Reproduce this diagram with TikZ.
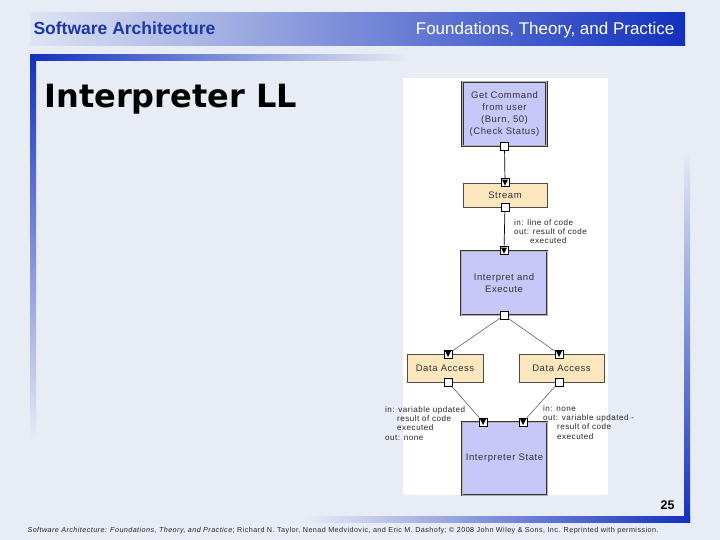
\documentclass[tikz,border=0pt]{standalone}
\usepackage{fontspec}
\setmainfont{Liberation Sans}
\newfontfamily\verdfont{DejaVu Sans}
\newfontfamily\diafont{Liberation Sans}[LetterSpace=6]
\usepackage{tikz}
\usepackage{xcolor}
\definecolor{slidebg}{RGB}{232,236,244}
\definecolor{framebl}{RGB}{18,48,190}
\definecolor{hdrlight}{RGB}{222,228,242}
\definecolor{hdrtext}{RGB}{26,56,168}
\definecolor{compbl}{RGB}{198,200,250}
\definecolor{connor}{RGB}{252,230,190}

\begin{document}
\begin{tikzpicture}[x=1pt, y=-1pt,
    comp/.style={draw=black!80, double=black!30, double distance=1pt, line width=0.8pt, fill=compbl,
      rectangle, align=center, text=black!80, font=\diafont\fontsize{9.5}{12}\selectfont},
    conn/.style={draw=black!70, line width=0.6pt, fill=connor, rectangle, align=center, text=black!80,
      font=\diafont\fontsize{9.5}{12}\selectfont},
    port/.style={draw=black, fill=white, rectangle, inner sep=0pt, minimum size=8pt, line width=0.6pt},
    inport/.style={port, path picture={
      \fill[black] ([xshift=1pt,yshift=-1pt]path picture bounding box.north west)
        -- ([xshift=-1pt,yshift=-1pt]path picture bounding box.north east)
        -- ([yshift=1pt]path picture bounding box.south) -- cycle;}},
    lbl/.style={align=left, inner sep=0pt, text=black!85, font=\diafont\fontsize{8.1}{9.4}\selectfont}]
  \useasboundingbox (0,0) rectangle (720,540);
  % slide background and frame
  \fill[slidebg] (0,0) rectangle (720,540);
  \shade[left color=hdrlight, middle color=framebl, right color=framebl] (30,13) rectangle (685,46);
  \shade[top color=framebl, middle color=framebl, bottom color=slidebg] (30,55) rectangle (36,440);
  \shade[left color=framebl, middle color=framebl, right color=slidebg] (30,55) rectangle (410,61);
  \shade[top color=slidebg, middle color=framebl, bottom color=framebl] (684,150) rectangle (690,522);
  \shade[left color=slidebg, middle color=framebl, right color=framebl] (305,516) rectangle (690,522);
  \node[anchor=base west, text=hdrtext, font=\fontsize{17.5}{17.5}\bfseries] (hdrl) at (30,35) {Software Architecture};
  \node[anchor=base east, text=white, font=\fontsize{17}{17}\selectfont] (hdrr) at (678,35) {Foundations, Theory, and Practice};
  \node[anchor=base west, font=\verdfont\fontsize{32}{32}\bfseries] (title) at (41,108) {Interpreter LL};
  \fill[white] (403,78) rectangle (608,495);

  % components and connectors
  \node[comp, minimum width=84pt, minimum height=64pt] (getcmd) at (504.5,114)
    {Get Command\\from user\\(Burn, 50)\\(Check Status)};
  \node[conn, minimum width=84pt, minimum height=24pt] (stream) at (505,195) {Stream};
  \node[comp, minimum width=86pt, minimum height=64pt] (interp) at (504,283) {Interpret and\\Execute};
  \node[conn, minimum width=76pt, minimum height=28pt] (dal) at (445,368) {Data Access};
  \node[conn, minimum width=85pt, minimum height=28pt] (dar) at (561.5,368) {Data Access};
  \node[comp, minimum width=85pt, minimum height=73pt] (state) at (504.5,458.5) {Interpreter State};

  % ports
  \node[port] (p1) at (getcmd.south) {};
  \node[inport] (p2) at (stream.north) {};
  \node[port] (p3) at (stream.south) {};
  \node[inport] (p4) at (interp.north) {};
  \node[port] (p5) at (interp.south) {};
  \node[inport] (p6) at (448,354) {};
  \node[inport] (p7) at (559,354) {};
  \node[port] (p8) at (448,382) {};
  \node[port] (p9) at (559,382) {};
  \node[inport] (p10) at (483,422) {};
  \node[inport] (p11) at (523,422) {};

  % links
  \draw[black, line width=0.7pt] (p1) -- (p2);
  \draw[black, line width=0.7pt] (p3) -- (p4);
  \draw[black!70, line width=0.5pt] (p5) -- (p6);
  \draw[black!70, line width=0.5pt] (p5) -- (p7);
  \draw[black!70, line width=0.5pt] (p8) -- (p10);
  \draw[black!70, line width=0.5pt] (p9) -- (p11);

  % port labels
  \node[lbl, anchor=north west] (lblstream) at (514,219)
    {in: line of code\\out: result of code\\\hspace*{16pt}executed};
  \node[lbl, anchor=north west] (lbldal) at (385,406)
    {in: variable updated\\\hspace*{12pt}result of code\\\hspace*{12pt}executed\\out: none};
  \node[lbl, anchor=north west] (lbldar) at (543,405)
    {in: none\\out: variable updated -\\\hspace*{14pt}result of code\\\hspace*{14pt}executed};

  % footer
  \node[anchor=east, font=\fontsize{12.5}{12.5}\bfseries] (pagenum) at (678,505) {25};
  \node[anchor=west, text=black!85, font=\diafont\fontsize{7.2}{7.2}\selectfont] (credit) at (24,531)
    {\textit{Software Architecture: Foundations, Theory, and Practice}; Richard N. Taylor, Nenad Medvidovic, and Eric M. Dashofy; \textcopyright{} 2008 John Wiley \& Sons, Inc. Reprinted with permission.};
\end{tikzpicture}
\end{document}
